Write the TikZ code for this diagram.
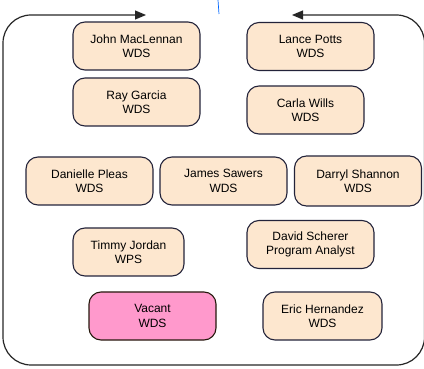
\documentclass[tikz,border=0pt]{standalone}
\usepackage{fontspec}
\setmainfont{Liberation Sans}
\usetikzlibrary{arrows.meta}
\definecolor{peach}{HTML}{FDE7CF}
\definecolor{vacantpink}{HTML}{FF99CC}
\definecolor{boxline}{HTML}{23233A}
\begin{document}
\begin{tikzpicture}
[x=1pt,y=-1pt,
 staff/.style=
   {rectangle,rounded corners=12pt,draw=boxline,line width=1.1pt,fill=peach,
    minimum width=127pt,minimum height=48pt,align=center,inner sep=0pt,
    font=\fontsize{12}{14.5}\selectfont},
 vacant/.style={staff,fill=vacantpink,draw=black!80!brown}]
\useasboundingbox (0,0) rectangle (424,369);
% team members
\node [staff] (john) at (136.5,46) {John MacLennan\\WDS};
\node [staff] (lance) at (310.5,46.5) {Lance Potts\\WDS};
\node [staff] (ray) at (136.5,102) {Ray Garcia\\WDS};
\node [staff,minimum width=117pt] (carla) at (305.5,110) {Carla Wills\\WDS};
\node [staff] (danielle) at (89.5,181) {Danielle Pleas\\WDS};
\node [staff] (james) at (223.5,181) {James Sawers\\WDS};
\node [staff,minimum height=50pt] (darryl) at (358,181) {Darryl Shannon\\WDS};
\node [staff,minimum width=111pt] (timmy) at (128.5,252) {Timmy Jordan\\WPS};
\node [staff] (david) at (310.5,244.5) {David Scherer\\Program Analyst};
\node [vacant] (vacant) at (152.5,316) {Vacant\\WDS};
\node [staff,minimum width=119pt] (eric) at (322.5,316) {Eric Hernandez\\WDS};
% frame round the team
\coordinate (loopL) at (146,15);
\coordinate (loopR) at (292,15);
\draw [black!85,line width=1.2pt,rounded corners=28pt,
       {Triangle[length=11pt,width=9pt]}-{Triangle[length=11pt,width=9pt]}]
  (loopL) -- (3,15) -- (3,365) -- (424.5,365) -- (424.5,15) -- (loopR);
% line from above
\coordinate (feedTop) at (218,0);
\coordinate (feedEnd) at (219,14);
\draw [blue!60!cyan,line width=0.7pt] (feedTop) -- (feedEnd);
\end{tikzpicture}
\end{document}
